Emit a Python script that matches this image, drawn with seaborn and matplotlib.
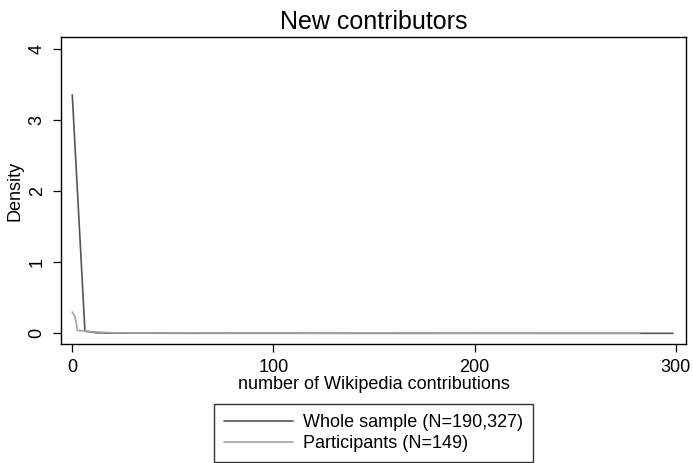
import matplotlib
matplotlib.use("Agg")
import matplotlib.pyplot as plt
import pandas as pd
import seaborn as sns

# kernel density estimates
whole_x = [0, 6.3, 12, 18, 30, 60, 100, 150, 200, 250, 298.5]
whole_y = [3.35, 0.03, 0.008, 0.003, 0.002, 0.001, 0.001, 0.0, 0.0, 0.0, 0.0]
part_x = [0, 1.5, 2.6, 6, 10.5, 20, 30, 45, 60, 75, 95, 120, 150, 185, 210, 240, 282]
part_y = [0.30, 0.22, 0.04, 0.035, 0.02, 0.008, 0.004, 0.004, 0.006, 0.003,
          0.005, 0.002, 0.005, 0.003, 0.002, 0.001, 0.001]
series_names = ["Whole sample (N=190,327)", "Participants (N=149)"]
series_colors = ["#555555", "#a3a3a3"]
x_ticks = [0, 100, 200, 300]
y_ticks = [0, 1, 2, 3, 4]

df = pd.concat([
    pd.DataFrame({"x": whole_x, "y": whole_y, "series": series_names[0]}),
    pd.DataFrame({"x": part_x, "y": part_y, "series": series_names[1]}),
])

sns.set_style("ticks")
plt.rcParams["font.family"] = ["Liberation Sans", "DejaVu Sans"]
plt.rcParams.update({
    "text.color": "black",
    "axes.labelcolor": "black",
    "xtick.color": "black",
    "ytick.color": "black",
})

fig = plt.figure(figsize=(6.93, 4.63), dpi=100)
ax = fig.add_axes([61 / 693, 1 - 344 / 463, 625 / 693, 307 / 463])

sns.lineplot(data=df, x="x", y="y", hue="series", hue_order=series_names,
             palette=series_colors, estimator=None, sort=False,
             linewidth=1.2, ax=ax, legend=False)

ax.set_xlim(-5.6, 305)
ax.set_ylim(-0.15, 4.163)
ax.set_xticks(x_ticks)
ax.set_yticks(y_ticks)
ax.tick_params(axis="both", labelsize=13, length=6, width=0.9, direction="out", pad=5)
plt.setp(ax.get_yticklabels(), rotation=90, va="center")
for side in ax.spines.values():
    side.set_visible(True)
    side.set_color("black")
    side.set_linewidth(1.0)

ax.set_xlabel("number of Wikipedia contributions", fontsize=13, labelpad=0)
ax.set_ylabel("Density", fontsize=13, labelpad=4)
ax.set_title("New contributors", fontsize=18, pad=6)

handles = [plt.Line2D([], [], color=c, linewidth=1.2) for c in series_colors]
leg = fig.legend(handles, series_names, loc="lower center",
                 bbox_to_anchor=(373.5 / 693, 1 / 463), fontsize=13,
                 frameon=True, fancybox=False, handlelength=3.83,
                 handletextpad=0.55, borderpad=0.55, labelspacing=0.22,
                 borderaxespad=0)
leg.get_frame().set_edgecolor("black")
leg.get_frame().set_linewidth(1.0)

fig.savefig("out.png", dpi=100)
